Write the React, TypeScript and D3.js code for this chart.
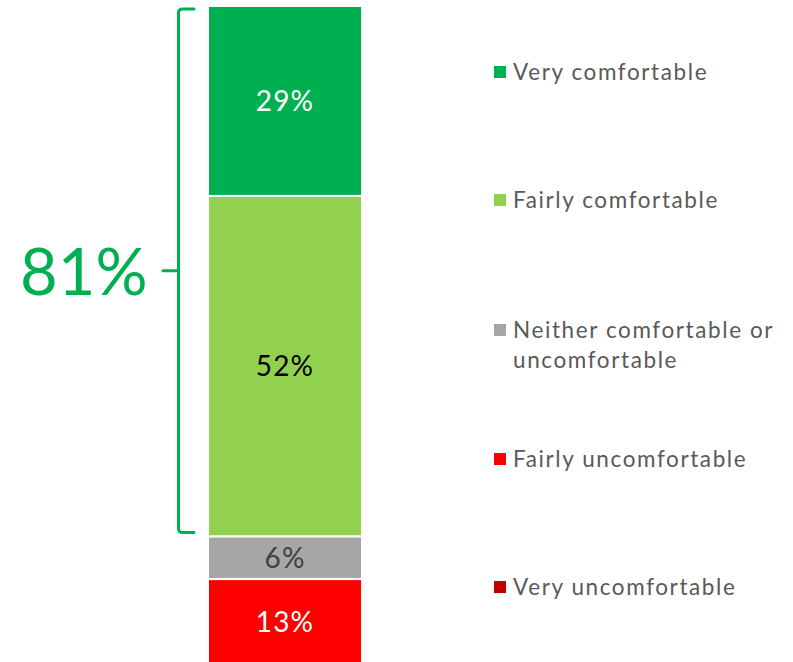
import React from "react";
import * as d3 from "d3";

const categories = [
  "Very comfortable",
  "Fairly comfortable",
  "Neither comfortable or uncomfortable",
  "Fairly uncomfortable",
  "Very uncomfortable",
];
// segment sizes as measured on the picture; labels are the printed (rounded) values
const values = [29, 52, 6.5, 13, 0];
const valueLabels = ["29%", "52%", "6%", "13%", ""];
const colors = ["#00B050", "#92D050", "#A6A6A6", "#FF0000", "#C00000"];
const labelColors = ["#FFFFFF", "#000000", "#404040", "#FFFFFF", "#FFFFFF"];
const legendLines = [
  ["Very comfortable"],
  ["Fairly comfortable"],
  ["Neither comfortable or", "uncomfortable"],
  ["Fairly uncomfortable"],
  ["Very uncomfortable"],
];
const bracketTotal = 81;
const bracketLabel = "81%";

const W = 793;
const H = 662;
const FONT = "Lato, 'Open Sans', sans-serif";
const legendY = [72, 200, 330, 459, 587];

export default function App() {
  const y = d3.scaleLinear().domain([0, 100]).range([6, 661]);
  const row: Record<string, number> = {};
  categories.forEach((c, i) => (row[c] = values[i]));
  const series = d3.stack<Record<string, number>>().keys(categories)([row]);
  const x = d3.scaleBand().domain(["bar"]).range([208, 362]).padding(0);
  const bx = x("bar") as number;
  const bw = x.bandwidth();

  const bTop = y(0) + 3;
  const bBot = y(bracketTotal) - 4;
  const bMid = (bTop + bBot) / 2;
  const bxLine = 178.5;
  const bracketPath = d3.path();
  bracketPath.moveTo(194, bTop);
  bracketPath.lineTo(bxLine + 4, bTop);
  bracketPath.quadraticCurveTo(bxLine, bTop, bxLine, bTop + 4);
  bracketPath.lineTo(bxLine, bBot - 4);
  bracketPath.quadraticCurveTo(bxLine, bBot, bxLine + 4, bBot);
  bracketPath.lineTo(194, bBot);
  bracketPath.moveTo(bxLine, bMid);
  bracketPath.lineTo(163, bMid);

  return (
    <svg
      width={W}
      height={H}
      style={{ position: "absolute", left: 0, top: 0, background: "#fff" }}
      fontFamily={FONT}
    >
      {series.map((s, i) => {
        const d = s[0];
        const h = y(d[1]) - y(d[0]);
        if (h <= 0) return null;
        return (
          <g key={s.key}>
            <rect
              x={bx}
              y={y(d[0])}
              width={bw}
              height={h}
              fill={colors[i]}
              stroke="#fff"
              strokeWidth={2}
            />
            <text
              x={bx + bw / 2}
              y={(y(d[0]) + y(d[1])) / 2}
              dy="0.36em"
              textAnchor="middle"
              fontSize={28}
              letterSpacing={1.2}
              fill={labelColors[i]}
            >
              {valueLabels[i]}
            </text>
          </g>
        );
      })}
      <path
        d={bracketPath.toString()}
        fill="none"
        stroke="#00B050"
        strokeWidth={3}
        strokeLinecap="round"
        strokeLinejoin="round"
      />
      <text x={20} y={295} fontSize={65} fill="#00B050">
        {bracketLabel}
      </text>
      {categories.map((c, i) => (
        <g key={c}>
          <rect x={494} y={legendY[i] - 6} width={12} height={12} fill={colors[i]} />
          <text x={513} y={legendY[i]} fontSize={22.5} letterSpacing={1.6} fill="#595959">
            {legendLines[i].map((t, j) => (
              <tspan key={j} x={513} dy={j === 0 ? "0.36em" : 30}>
                {t}
              </tspan>
            ))}
          </text>
        </g>
      ))}
    </svg>
  );
}
